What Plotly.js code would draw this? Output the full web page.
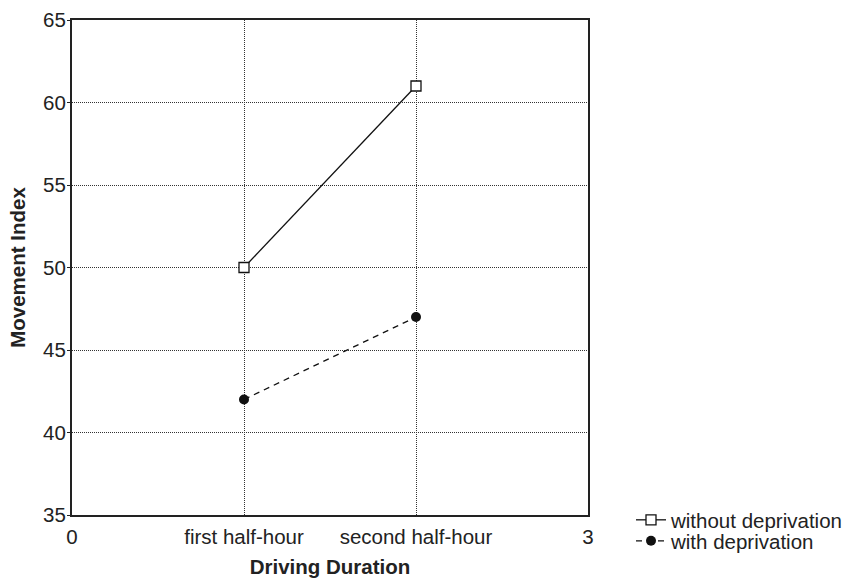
<!DOCTYPE html>
<html>
<head>
<meta charset="utf-8">
<script src="https://cdn.plot.ly/plotly-3.0.1.min.js"></script>
<style>html,body{margin:0;padding:0;background:#fff;}#chart{width:848px;height:581px;}</style>
</head>
<body>
<div id="chart"></div>
<script>
const xPositions = [1, 2];
const tickVals = [0, 1, 2, 3];
const tickLabels = ['0', 'first half-hour', 'second half-hour', '3'];
const yTickVals = [35, 40, 45, 50, 55, 60, 65];
const withoutDeprivation = [50, 61];
const withDeprivation = [42, 47];
const seriesNames = ['without deprivation', 'with deprivation'];

const FONT = 'Arial, "Liberation Sans", sans-serif';
const FS = 20.5;

const traces = [
  {
    x: xPositions, y: withoutDeprivation, name: seriesNames[0],
    type: 'scatter', mode: 'lines+markers', legend: 'legend',
    line: {color: '#111', width: 1.3},
    marker: {symbol: 'square', size: 10, color: '#fff', line: {color: '#111', width: 1.3}}
  },
  {
    x: xPositions, y: withDeprivation, name: seriesNames[1],
    type: 'scatter', mode: 'lines+markers', legend: 'legend2',
    line: {color: '#111', width: 1.3, dash: '6px,5px'},
    marker: {symbol: 'circle', size: 10, color: '#111'}
  }
];

const legendBase = {
  xanchor: 'left', yanchor: 'middle',
  font: {family: FONT, size: FS, color: '#222'},
  bgcolor: 'rgba(0,0,0,0)', borderwidth: 0
};

const layout = {
  width: 848, height: 581,
  margin: {l: 72, r: 260, t: 20, b: 66, autoexpand: false},
  paper_bgcolor: '#fff', plot_bgcolor: '#fff',
  font: {family: FONT, size: FS, color: '#222'},
  showlegend: true,
  legend: Object.assign({}, legendBase, {x: (631 - 72) / 516, y: -(520 - 515) / 495}),
  legend2: Object.assign({}, legendBase, {x: (631 - 72) / 516, y: -(541 - 515) / 495}),
  xaxis: {
    range: [0, 3], tickmode: 'array', tickvals: tickVals, ticktext: tickLabels,
    showgrid: true, gridcolor: '#333', griddash: '1px,1px', gridwidth: 1,
    showline: true, linecolor: '#222', linewidth: 2, mirror: true,
    ticks: '', zeroline: false, ticklabelstandoff: 2,
    tickfont: {family: FONT, size: FS, color: '#222'},
    title: {text: '<b>Driving Duration</b>', font: {family: FONT, size: FS, color: '#222'}, standoff: 13}
  },
  yaxis: {
    range: [35, 65], tickmode: 'array', tickvals: yTickVals,
    showgrid: true, gridcolor: '#333', griddash: '1px,1px', gridwidth: 1,
    showline: true, linecolor: '#222', linewidth: 2, mirror: true,
    ticks: 'outside', ticklen: 3, tickcolor: '#222', zeroline: false,
    ticklabelstandoff: -3,
    tickfont: {family: FONT, size: FS, color: '#222'},
    title: {text: '<b>Movement Index</b>', font: {family: FONT, size: FS, color: '#222'}, standoff: 12}
  }
};

Plotly.newPlot('chart', traces, layout, {displayModeBar: false, staticPlot: true});
</script>
</body>
</html>
